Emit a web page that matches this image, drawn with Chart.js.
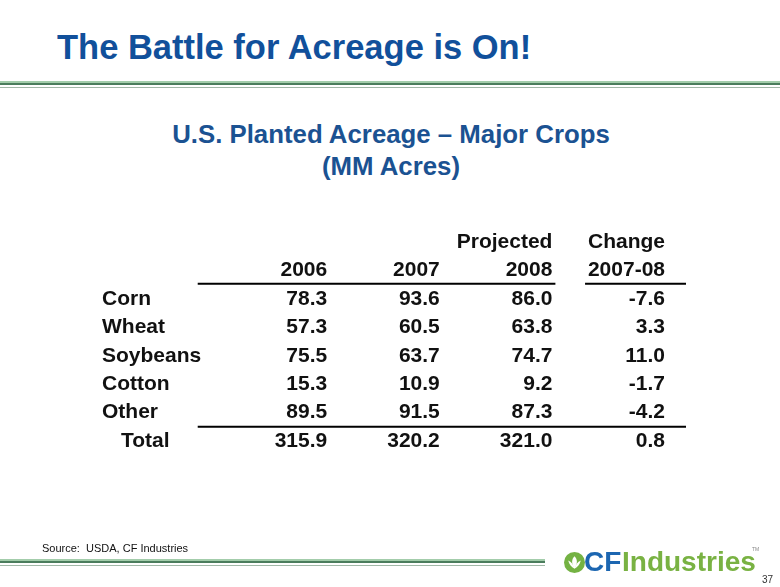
<!DOCTYPE html>
<html>
<head>
<meta charset="utf-8">
<script src="https://cdn.jsdelivr.net/npm/chart.js@4.4.1/dist/chart.umd.min.js"></script>
<style>
  body { margin: 0; background: #fff; }
  #slide { position: relative; width: 780px; height: 587px; overflow: hidden; background: #fff;
           font-family: "Liberation Sans", Arial, sans-serif; }
  #slide div, #slide span { position: absolute; white-space: nowrap; }
  #mycanvas { position: absolute; left: 0; top: 0; }
  .title { left: 57px; top: 30px; font-size: 34.5px; line-height: 34.5px; font-weight: bold; color: #11509b; }
  .subtitle { left: 0; top: 118px; width: 782px; text-align: center; font-size: 25.8px; line-height: 32px;
              font-weight: bold; color: #1b5292; }
  .source { left: 42px; top: 543px; font-size: 11px; line-height: 11px; color: #111; }
  .logoText { top: 548px; font-size: 28px; line-height: 28px; font-weight: bold; }
  .page { left: 762px; top: 575px; font-size: 10px; line-height: 10px; color: #333; }
</style>
</head>
<body>
<div id="slide">
  <div class="title">The Battle for Acreage is On!</div>

  <!-- top rule -->
  <div style="left:0;top:81px;width:780px;height:2px;background:#a3cdab"></div>
  <div style="left:0;top:83px;width:780px;height:2px;background:#4b7d5d"></div>
  <div style="left:0;top:87px;width:780px;height:1px;background:#a2b8a8"></div>

  <div class="subtitle">U.S. Planted Acreage – Major Crops<br>(MM Acres)</div>

  <canvas id="mycanvas" width="780" height="587"></canvas>

  <div class="source">Source:&nbsp; USDA, CF Industries</div>

  <!-- bottom rule -->
  <div style="left:0;top:559px;width:545px;height:2px;background:#a3cdab"></div>
  <div style="left:0;top:561px;width:545px;height:2px;background:#4b7d5d"></div>
  <div style="left:0;top:565px;width:545px;height:1px;background:#a2b8a8"></div>

  <!-- logo -->
  <svg style="position:absolute;left:564px;top:552px" width="21" height="21" viewBox="0 0 20 20">
    <circle cx="10" cy="10" r="10" fill="#74b243"/>
    <path d="M10 4 C7 7 7 11 10 16 C13 11 13 7 10 4 Z" fill="#fff"/>
    <path d="M4 8 C5 12 7 14 10 16 C9 12 7 9 4 8 Z" fill="#fff"/>
    <path d="M16 8 C15 12 13 14 10 16 C11 12 13 9 16 8 Z" fill="#fff"/>
  </svg>
  <div class="logoText" style="left:584px;color:#1c66b1">CF</div>
  <div class="logoText" style="left:622px;color:#79b243">Industries</div>
  <div style="left:752px;top:546px;font-size:5px;color:#888">TM</div>
  <div class="page">37</div>
</div>

<script>
// table columns and rows
const columns = ['name', 'gap', '2006', '2007', '2008', 'chg'];
const rows = ['head1', 'head2', 'Corn', 'Wheat', 'Soybeans', 'Cotton', 'Other', 'Total'];
const crops = ['Corn', 'Wheat', 'Soybeans', 'Cotton', 'Other', 'Total'];
const headTop = ['', '', '', '', 'Projected', 'Change'];
const headYear = ['', '', '2006', '2007', '2008', '2007-08'];

// MM acres
const acres2006 = [78.3, 57.3, 75.5, 15.3, 89.5, 315.9];
const acres2007 = [93.6, 60.5, 63.7, 10.9, 91.5, 320.2];
const acres2008 = [86.0, 63.8, 74.7, 9.2, 87.3, 321.0];
const change = [-7.6, 3.3, 11.0, -1.7, -4.2, 0.8];

function cells(col, values) {
    return crops.map((c, i) => ({x: col, y: c, v: values[i]}));
}

const tableFont = 'bold 21px "Liberation Sans", Arial, sans-serif';

const tablePlugin = {
    id: 'tableText',
    afterDatasetsDraw(chart) {
        const ctx = chart.ctx;
        const xs = chart.scales.x;
        const ys = chart.scales.y;
        const step = xs.getPixelForValue('2007') - xs.getPixelForValue('2006');
        ctx.save();
        ctx.font = tableFont;
        ctx.fillStyle = '#111';
        ctx.textBaseline = 'middle';

        // headers
        ctx.textAlign = 'right';
        columns.forEach((c, i) => {
            const x = xs.getPixelForValue(c);
            if (headTop[i]) ctx.fillText(headTop[i], x, ys.getPixelForValue('head1') + 1);
            if (headYear[i]) ctx.fillText(headYear[i], x, ys.getPixelForValue('head2') + 1);
        });

        // crop names
        ctx.textAlign = 'left';
        crops.forEach(c => {
            const indent = c === 'Total' ? 19 : 0;
            ctx.fillText(c, xs.getPixelForValue('name') + indent, ys.getPixelForValue(c) + 1);
        });

        // values
        ctx.textAlign = 'right';
        chart.data.datasets.forEach((ds, di) => {
            const meta = chart.getDatasetMeta(di);
            meta.data.forEach((pt, i) => {
                ctx.fillText(ds.data[i].v.toFixed(1), pt.x, pt.y + 1);
            });
        });

        // rules
        ctx.strokeStyle = '#000';
        ctx.lineWidth = 2;
        const yHead = (ys.getPixelForValue('head2') + ys.getPixelForValue('Corn')) / 2;
        const yTot = (ys.getPixelForValue('Other') + ys.getPixelForValue('Total')) / 2 + 1;
        const xStart = xs.getPixelForValue('gap') - step * 0.15;
        const x2008 = xs.getPixelForValue('2008') + 3;
        const xChg = xs.getPixelForValue('chg');
        ctx.beginPath();
        ctx.moveTo(xStart, yHead); ctx.lineTo(x2008, yHead);
        ctx.moveTo(xChg - step * 0.71, yHead); ctx.lineTo(xChg + 21, yHead);
        ctx.moveTo(xStart, yTot); ctx.lineTo(xChg + 21, yTot);
        ctx.stroke();
        ctx.restore();
    }
};

let ctx = document.getElementById('mycanvas');

var tableChart = new Chart(ctx, {
    type: 'scatter',
    data: {
        datasets: [
            {label: '2006', data: cells('2006', acres2006)},
            {label: '2007', data: cells('2007', acres2007)},
            {label: '2008', data: cells('2008', acres2008)},
            {label: 'Change 2007-08', data: cells('chg', change)}
        ]
    },
    options: {
        responsive: false,
        animation: false,
        events: [],
        layout: {padding: {left: 102, right: 115, top: 241, bottom: 147}},
        elements: {point: {radius: 0, hoverRadius: 0}},
        scales: {
            x: {type: 'category', labels: columns, offset: false, display: false},
            y: {type: 'category', labels: rows, offset: false, display: false}
        },
        plugins: {legend: {display: false}, tooltip: {enabled: false}}
    },
    plugins: [tablePlugin]
});
</script>
</body>
</html>
